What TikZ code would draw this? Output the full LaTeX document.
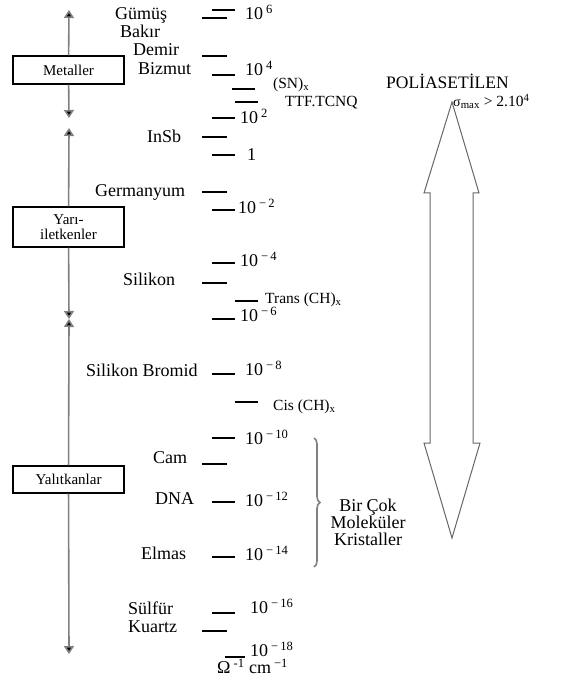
\documentclass[tikz,border=0pt]{standalone}
\usepackage{fontspec}
\setmainfont{Liberation Serif}
\usetikzlibrary{arrows.meta,decorations.pathreplacing}
\newcommand{\fbig}{\fontsize{18}{20}\selectfont}
\newcommand{\fmid}{\fontsize{15.5}{18}\selectfont}
\newcommand{\fsml}{\fontsize{15}{18}\selectfont}
\newcommand{\ex}[1]{\,\textsuperscript{#1}}
\begin{document}
\begin{tikzpicture}[x=1pt,y=-1pt,
  tk/.style={line width=1.2pt,black},
  lbl/.style={anchor=mid west,inner sep=0pt,font=\fbig},
  lblm/.style={anchor=mid west,inner sep=0pt,font=\fmid},
  catbox/.style={draw=black,line width=1.1pt,minimum width=111pt,inner sep=2pt,font=\fsml,align=center},
  axis/.style={draw=gray,line width=1.6pt,-{Triangle[width=10pt,length=8pt,fill=black]}},
]
\useasboundingbox (0,0) rectangle (568,684);

% category boxes
\node[catbox,minimum height=28pt] (met) at (68.5,70) {Metaller};
\node[catbox,minimum height=40pt] (yari) at (68.5,227) {Yarı-\\[-3pt]iletkenler};
\node[catbox,minimum height=27pt] (yal) at (68.5,479.5) {Yalıtkanlar};

\coordinate (m1) at (69,10);
\coordinate (m2) at (69,118);
\coordinate (y1) at (69,128);
\coordinate (y2) at (69,319);
\coordinate (l1) at (69,319);
\coordinate (l2) at (69,654);
\draw[axis] (met) -- (m1);
\draw[axis] (met) -- (m2);
\draw[axis] (yari) -- (y1);
\draw[axis] (yari) -- (y2);
\draw[axis] (yal) -- (l1);
\draw[axis] (yal) -- (l2);

% ticks
\draw[tk] (212,10) -- (235,10);
\draw[tk] (202,18) -- (227,18);
\draw[tk] (202,56) -- (227,56);
\draw[tk] (212,75) -- (235,75);
\draw[tk] (232,89) -- (255,89);
\draw[tk] (235,102) -- (258,102);
\draw[tk] (212,118) -- (235,118);
\draw[tk] (202,137) -- (227,137);
\draw[tk] (212,155) -- (235,155);
\draw[tk] (202,192) -- (227,192);
\draw[tk] (212,210) -- (235,210);
\draw[tk] (212,263) -- (235,263);
\draw[tk] (202,283) -- (227,283);
\draw[tk] (235,301) -- (258,301);
\draw[tk] (212,319) -- (235,319);
\draw[tk] (212,374) -- (235,374);
\draw[tk] (235,402) -- (258,402);
\draw[tk] (212,438) -- (235,438);
\draw[tk] (202,464) -- (227,464);
\draw[tk] (212,502) -- (235,502);
\draw[tk] (212,557) -- (235,557);
\draw[tk] (212,613) -- (235,613);
\draw[tk] (202,631) -- (227,631);
\draw[tk] (225,657) -- (245,657);

% material labels
\node[lbl] (gum) at (115,17) {Gümüş};
\node[lbl] (bak) at (120,35) {Bakır};
\node[lbl] (dem) at (133,53) {Demir};
\node[lbl] (biz) at (138,72) {Bizmut};
\node[lbl] (insb) at (147,140) {InSb};
\node[lbl] (ger) at (95,194) {Germanyum};
\node[lbl] (sil) at (123,283) {Silikon};
\node[lbl] (silb) at (86,374) {Silikon Bromid};
\node[lbl] (cam) at (153,461) {Cam};
\node[lbl] (dna) at (155,502) {DNA};
\node[lbl] (elm) at (141,557) {Elmas};
\node[lbl] (sul) at (128,612) {Sülfür};
\node[lbl] (kua) at (128,630) {Kuartz};

% value labels
\node[lbl] (e6) at (245,17) {10\ex{6}};
\node[lbl] (e4) at (245,73) {10\ex{4}};
\node[lbl] (e2) at (240,121) {10\ex{2}};
\node[lbl] (e0) at (247,158) {1};
\node[lbl] (em2) at (238,211) {10\ex{−\,2}};
\node[lbl] (em4) at (240,264) {10\ex{−\,4}};
\node[lbl] (em6) at (240,319) {10\ex{−\,6}};
\node[lbl] (em8) at (245,373) {10\ex{−\,8}};
\node[lbl] (em10) at (245,442) {10\ex{−\,10}};
\node[lbl] (em12) at (245,504) {10\ex{−\,12}};
\node[lbl] (em14) at (245,558) {10\ex{−\,14}};
\node[lbl] (em16) at (250,611) {10\ex{−\,16}};
\node[lbl] (em18) at (250,654) {10\ex{−\,18}};
\node[lbl] (unit) at (217,671) {Ω\ex{-1} cm\ex{−1}};

% polymer labels
\node[lblm] (sn) at (273,86) {(SN)\textsubscript{x}};
\node[lblm] (ttf) at (285,104) {TTF.TCNQ};
\node[lblm] (trans) at (265,301) {Trans (CH)\textsubscript{x}};
\node[lblm] (cis) at (273,408) {Cis (CH)\textsubscript{x}};
\node[anchor=mid west,inner sep=0pt,font=\fontsize{17.5}{20}\selectfont] (poli) at (386,86) {POLİASETİLEN};
\node[lblm] (sig) at (453,104) {{\fontsize{14}{14}\selectfont σ}\textsubscript{max} > 2.10\textsuperscript{4}};

% brace
\draw[gray,line width=1.6pt,decorate,decoration={brace,amplitude=6pt}] (314,438) -- (314,567);
\node[inner sep=0pt,font=\fontsize{18}{17}\selectfont,align=center] (mol) at (368,522) {Bir Çok\\Moleküler\\Kristaller};

% big double arrow
\draw[gray!80!black,line width=1pt,line join=miter]
  (452,102) -- (479,193) -- (473,193) -- (473,443) -- (480,443) -- (452,538)
  -- (424,443) -- (430,443) -- (430,193) -- (424,193) -- cycle;
\end{tikzpicture}
\end{document}
